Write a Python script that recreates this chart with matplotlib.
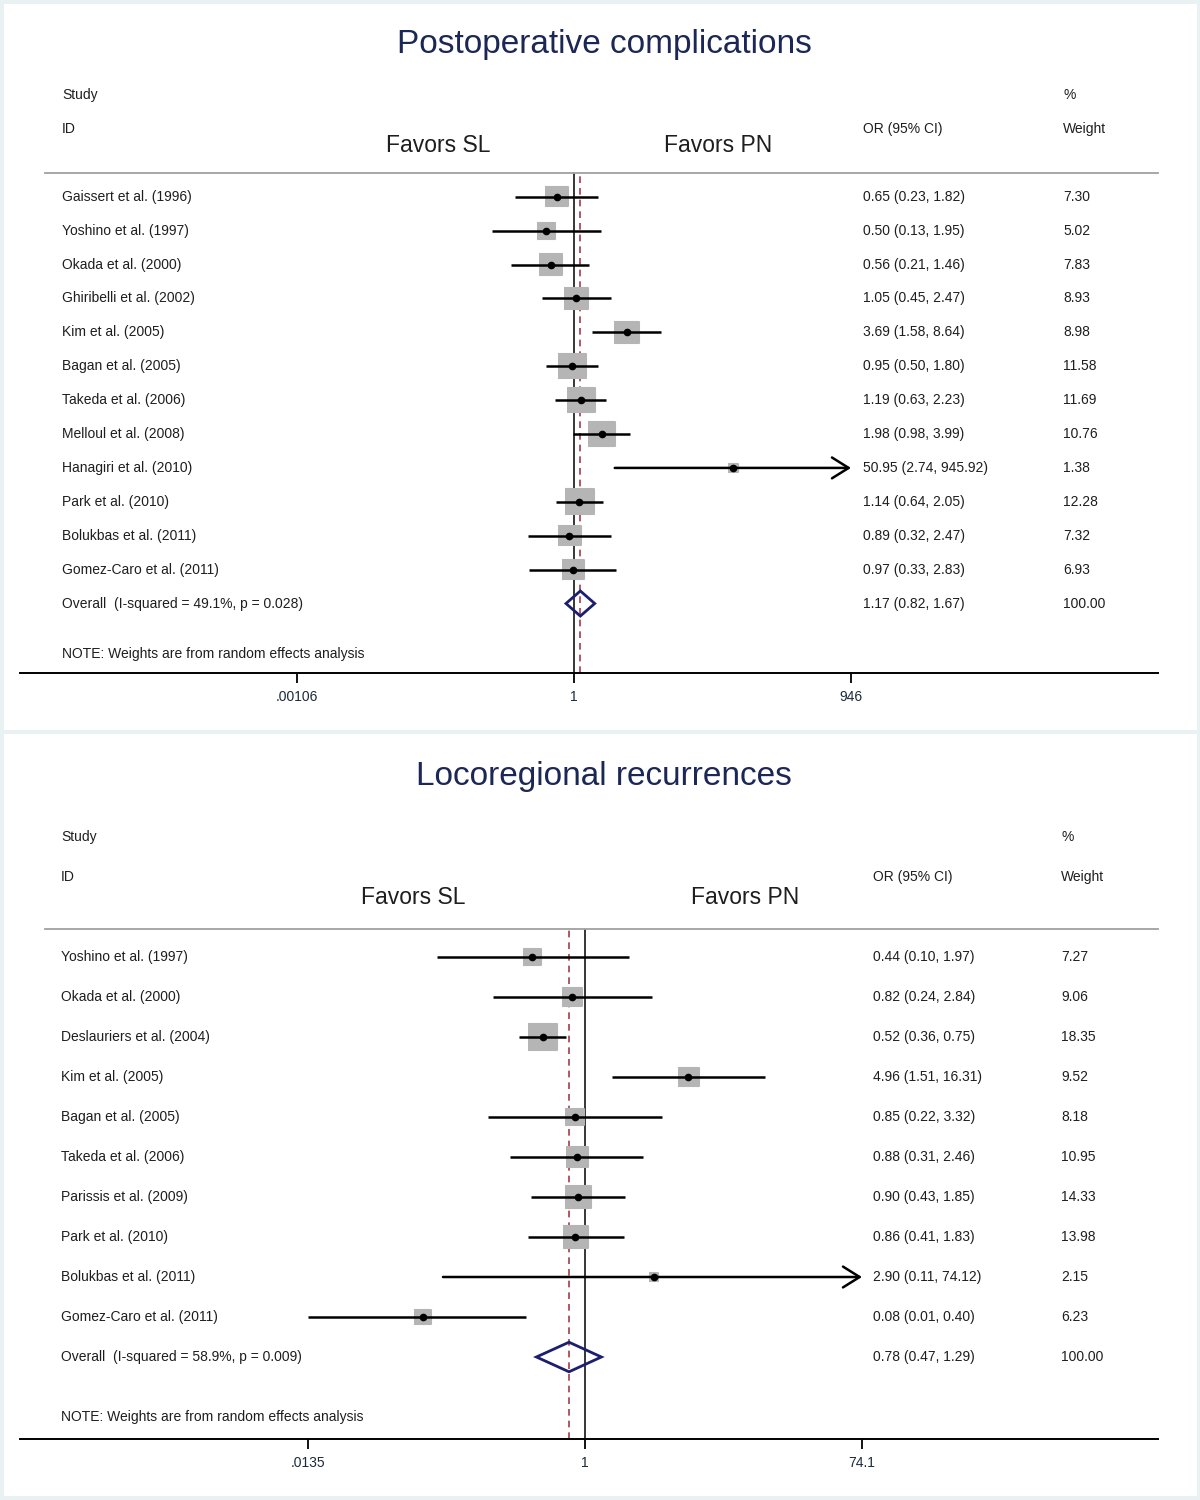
"""
Forest plots: postoperative complications and locoregional recurrences
(sublobar resection vs pneumonectomy), drawn with matplotlib
"""

import numpy as np
import matplotlib
matplotlib.use('Agg')
import matplotlib.pyplot as plt
from matplotlib.patches import Polygon, Rectangle
from matplotlib.transforms import blended_transform_factory

plt.rcParams['font.family'] = ['Liberation Sans', 'DejaVu Sans']

# ---- data: postoperative complications ----
comp_studies = ['Gaissert et al. (1996)', 'Yoshino et al. (1997)', 'Okada et al. (2000)',
                'Ghiribelli et al. (2002)', 'Kim et al. (2005)', 'Bagan et al. (2005)',
                'Takeda et al. (2006)', 'Melloul et al. (2008)', 'Hanagiri et al. (2010)',
                'Park et al. (2010)', 'Bolukbas et al. (2011)', 'Gomez-Caro et al. (2011)']
comp_or = [0.65, 0.50, 0.56, 1.05, 3.69, 0.95, 1.19, 1.98, 50.95, 1.14, 0.89, 0.97]
comp_lo = [0.23, 0.13, 0.21, 0.45, 1.58, 0.50, 0.63, 0.98, 2.74, 0.64, 0.32, 0.33]
comp_hi = [1.82, 1.95, 1.46, 2.47, 8.64, 1.80, 2.23, 3.99, 945.92, 2.05, 2.47, 2.83]
comp_wt = [7.30, 5.02, 7.83, 8.93, 8.98, 11.58, 11.69, 10.76, 1.38, 12.28, 7.32, 6.93]
comp_overall = (1.17, 0.82, 1.67, 100.00)
comp_het = (49.1, 0.028)
comp_ticks = [0.00106, 1, 946]
comp_ticklabels = ['.00106', '1', '946']

# ---- data: locoregional recurrences ----
rec_studies = ['Yoshino et al. (1997)', 'Okada et al. (2000)', 'Deslauriers et al. (2004)',
               'Kim et al. (2005)', 'Bagan et al. (2005)', 'Takeda et al. (2006)',
               'Parissis et al. (2009)', 'Park et al. (2010)', 'Bolukbas et al. (2011)',
               'Gomez-Caro et al. (2011)']
rec_or = [0.44, 0.82, 0.52, 4.96, 0.85, 0.88, 0.90, 0.86, 2.90, 0.08]
rec_lo = [0.10, 0.24, 0.36, 1.51, 0.22, 0.31, 0.43, 0.41, 0.11, 0.01]
rec_hi = [1.97, 2.84, 0.75, 16.31, 3.32, 2.46, 1.85, 1.83, 74.12, 0.40]
rec_wt = [7.27, 9.06, 18.35, 9.52, 8.18, 10.95, 14.33, 13.98, 2.15, 6.23]
rec_overall = (0.78, 0.47, 1.29, 100.00)
rec_het = (58.9, 0.009)
rec_ticks = [0.0135, 1, 74.1]
rec_ticklabels = ['.0135', '1', '74.1']

W, H = 1200, 1500
TITLE_C = '#1b2755'
TEXT_C = '#1e1e1e'
BOX_C = '#b5b5b5'
DASH_C = '#a23c48'
DIAMOND_C = '#1c1f6e'


def draw_panel(fig, title, studies, ors, los, his, wts, overall, het, ticks, ticklabels,
               top_px, bottom_px, one_px, max_px, col_px, fav_px):
    """Draw one Stata-style forest plot. Pixel args only place the axes/columns."""
    ax = fig.add_axes([20 / W, 1 - bottom_px / H, 1138 / W, (bottom_px - top_px) / H])
    ax.set_facecolor('none')
    ax.set_xscale('log')

    # x range so the tick values land where the reference puts them
    decade = (max_px - one_px) / np.log10(ticks[-1])
    ax.set_xlim(10 ** ((20 - one_px) / decade), 10 ** ((1158 - one_px) / decade))
    xmin_tick, xmax_tick = ticks[0], ticks[-1]

    n = len(studies)
    rows = np.arange(n)
    ax.set_ylim(n + 2.05, -0.7)

    fr = lambda px: (px - 20) / 1138
    trans = blended_transform_factory(ax.transAxes, ax.transData)

    ov_est, ov_lo, ov_hi, ov_wt = overall

    # reference lines
    ax.axvline(1, color='black', lw=1.1, zorder=1)
    ax.axvline(ov_est, color=DASH_C, lw=1.2, ls=(0, (4, 3)), zorder=1)
    ax.axhline(-0.7, xmin=fr(45), xmax=1, color='#a0a0a0', lw=1.3, clip_on=False)

    # study boxes (area ~ weight), CIs and point estimates
    wmax = max(wts)
    box = [(-1.16, -1), (1.16, -1), (1.16, 1), (-1.16, 1)]
    ax.scatter(ors, rows, marker=box, s=[440 * w / wmax for w in wts],
               color=BOX_C, edgecolors=BOX_C, linewidths=1.5, zorder=2)
    for y, lo, hi in zip(rows, los, his):
        lo_c = max(lo, xmin_tick)
        if hi >= xmax_tick * 0.99:
            ax.annotate('', xy=(xmax_tick, y), xytext=(lo_c, y),
                        arrowprops=dict(arrowstyle='->,head_length=1.2,head_width=0.75',
                                        lw=1.8, color='black', shrinkA=0, shrinkB=0),
                        zorder=3)
        else:
            ax.plot([lo_c, hi], [y, y], color='black', lw=1.8, solid_capstyle='butt', zorder=3)
    ax.plot(ors, rows, 'o', color='black', ms=4.5, zorder=4)

    # overall diamond
    yo = n
    ax.add_patch(Polygon([(ov_lo, yo), (ov_est, yo - 0.37), (ov_hi, yo), (ov_est, yo + 0.37)],
                         closed=True, fill=False, edgecolor=DIAMOND_C, lw=2, zorder=4))

    # text columns
    fs = 10
    for y, s, o, lo, hi, w in zip(rows, studies, ors, los, his, wts):
        ax.text(fr(col_px[0]), y, s, transform=trans, fontsize=fs, color=TEXT_C, va='center')
        ax.text(fr(col_px[1]), y, f'{o:.2f} ({lo:.2f}, {hi:.2f})', transform=trans,
                fontsize=fs, color=TEXT_C, va='center')
        ax.text(fr(col_px[2]), y, f'{w:.2f}', transform=trans, fontsize=fs,
                color=TEXT_C, va='center')
    ax.text(fr(col_px[0]), yo, f'Overall  (I-squared = {het[0]:.1f}%, p = {het[1]:.3f})',
            transform=trans, fontsize=fs, color=TEXT_C, va='center')
    ax.text(fr(col_px[1]), yo, f'{ov_est:.2f} ({ov_lo:.2f}, {ov_hi:.2f})', transform=trans,
            fontsize=fs, color=TEXT_C, va='center')
    ax.text(fr(col_px[2]), yo, f'{ov_wt:.2f}', transform=trans, fontsize=fs,
            color=TEXT_C, va='center')
    ax.text(fr(col_px[0]), n + 1.5, 'NOTE: Weights are from random effects analysis',
            transform=trans, fontsize=fs, color=TEXT_C, va='center')

    # header
    ax.text(fr(col_px[0]), -3, 'Study', transform=trans, fontsize=fs, color=TEXT_C, va='center')
    ax.text(fr(col_px[0]), -2, 'ID', transform=trans, fontsize=fs, color=TEXT_C, va='center')
    ax.text(fr(col_px[1]), -2, 'OR (95% CI)', transform=trans, fontsize=fs, color=TEXT_C,
            va='center')
    ax.text(fr(col_px[2]), -3, '%', transform=trans, fontsize=fs, color=TEXT_C, va='center')
    ax.text(fr(col_px[2]), -2, 'Weight', transform=trans, fontsize=fs, color=TEXT_C,
            va='center')
    ax.text(fr(fav_px[0]), -1.5, 'Favors SL', transform=trans, fontsize=16.5, color=TEXT_C,
            ha='center', va='center')
    ax.text(fr(fav_px[1]), -1.5, 'Favors PN', transform=trans, fontsize=16.5, color=TEXT_C,
            ha='center', va='center')
    ax.text(fr(604), -4.5, title, transform=trans, fontsize=24, color=TITLE_C,
            ha='center', va='center')

    # axis
    for side in ['top', 'left', 'right']:
        ax.spines[side].set_visible(False)
    ax.spines['bottom'].set_linewidth(1.4)
    ax.set_yticks([])
    ax.set_xticks(ticks)
    ax.set_xticklabels(ticklabels)
    ax.xaxis.set_minor_locator(matplotlib.ticker.NullLocator())
    ax.tick_params(axis='x', length=7, width=1.3, pad=5, labelsize=10, labelcolor='#1c2a3a')
    return ax


fig = plt.figure(figsize=(12, 15), dpi=100, facecolor='#e9f1f3')

# white panel backgrounds
fig.add_artist(Rectangle((4 / W, 1 - 730 / H), 1193 / W, 726 / H, transform=fig.transFigure,
                         facecolor='white', edgecolor='none', zorder=0))
fig.add_artist(Rectangle((4 / W, 1 - 1496 / H), 1193 / W, 762 / H, transform=fig.transFigure,
                         facecolor='white', edgecolor='none', zorder=0))

draw_panel(fig, 'Postoperative complications', comp_studies, comp_or, comp_lo, comp_hi,
           comp_wt, comp_overall, comp_het, comp_ticks, comp_ticklabels,
           top_px=173, bottom_px=673, one_px=574, max_px=851,
           col_px=(62, 863, 1063), fav_px=(438, 718))

draw_panel(fig, 'Locoregional recurrences', rec_studies, rec_or, rec_lo, rec_hi,
           rec_wt, rec_overall, rec_het, rec_ticks, rec_ticklabels,
           top_px=929, bottom_px=1439, one_px=585, max_px=862,
           col_px=(61, 873, 1061), fav_px=(413, 745))

fig.savefig('out.png', dpi=100, facecolor=fig.get_facecolor())
plt.close(fig)
